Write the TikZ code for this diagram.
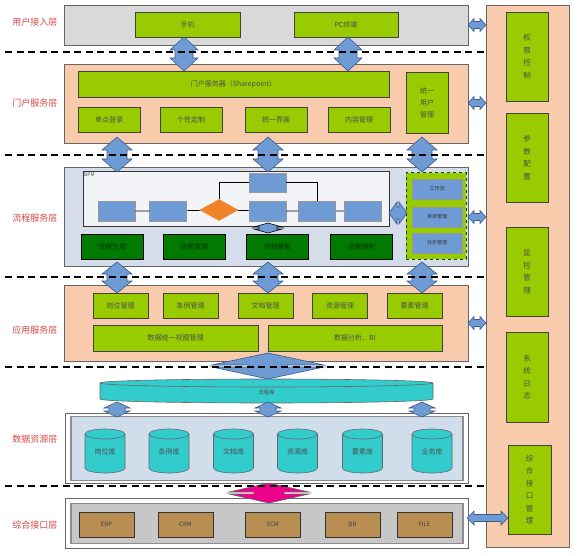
\documentclass[tikz,border=0pt]{standalone}
\usepackage{fontspec}
\setmainfont{Noto Sans CJK SC}
\usetikzlibrary{shapes.geometric}

\definecolor{usergray}{RGB}{217,217,217}
\definecolor{peach}{RGB}{248,203,173}
\definecolor{leaf}{RGB}{153,204,0}
\definecolor{skyblue}{RGB}{111,155,213}
\definecolor{arrowline}{RGB}{60,90,140}
\definecolor{procgray}{RGB}{212,221,233}
\definecolor{bpmwhite}{RGB}{242,244,248}
\definecolor{darkleaf}{RGB}{0,122,0}
\definecolor{cyan2}{RGB}{51,204,204}
\definecolor{brown2}{RGB}{185,142,82}
\definecolor{labelred}{RGB}{214,70,70}
\definecolor{orange2}{RGB}{240,130,40}
\definecolor{datablue}{RGB}{208,222,236}

% vertical double block arrow: [style]{cx}{top}{bottom}{head half}{shaft half}{head length}
\newcommand{\vdarrow}[7][]{%
  \draw[#1] (#2,-#3) -- (#2+#5,-#3-#7) -- (#2+#6,-#3-#7) -- (#2+#6,-#4+#7)
    -- (#2+#5,-#4+#7) -- (#2,-#4) -- (#2-#5,-#4+#7) -- (#2-#6,-#4+#7)
    -- (#2-#6,-#3-#7) -- (#2-#5,-#3-#7) -- cycle;}
% horizontal double block arrow: [style]{left}{right}{cy}{head half}{shaft half}{head length}
\newcommand{\hdarrow}[7][]{%
  \draw[#1] (#2,-#4) -- (#2+#7,-#4+#5) -- (#2+#7,-#4+#6) -- (#3-#7,-#4+#6)
    -- (#3-#7,-#4+#5) -- (#3,-#4) -- (#3-#7,-#4-#5) -- (#3-#7,-#4-#6)
    -- (#2+#7,-#4-#6) -- (#2+#7,-#4-#5) -- cycle;}

\begin{document}
\begin{tikzpicture}[x=1pt,y=1pt,
	sz/.style 2 args={minimum width=#1pt,minimum height=#2pt,inner sep=0pt},
	layer_bg/.style={draw=black!60,line width=0.7pt},
	layer_label/.style={text=labelred,font=\fontsize{9}{10}\selectfont},
	green_box/.style={draw=black!75,fill=leaf,line width=0.7pt,text=black!70,font=\fontsize{7}{8}\selectfont},
	side_box/.style={green_box,align=center,font=\fontsize{7.5}{12.5}\selectfont},
	dark_box/.style={draw=black,fill=darkleaf,line width=0.7pt,text=green!20!black,font=\fontsize{7}{8}\selectfont},
	blue_box/.style={draw=black!40,fill=skyblue,line width=0.5pt},
	small_box/.style={blue_box,text=black!80,font=\fontsize{5}{6}\selectfont},
	brown_box/.style={draw=black!80,fill=brown2,line width=0.7pt,text=black!75,font=\fontsize{6}{7}\selectfont},
	cyl/.style={draw=black!60,fill=cyan2,line width=0.6pt},
	cyl_text/.style={text=black!70,font=\fontsize{7}{8}\selectfont},
	blue_arrow/.style={draw=arrowline,fill=skyblue,line width=0.6pt},
	pink_arrow/.style={draw=black!60,fill=magenta,line width=0.6pt},
	flow_line/.style={draw=black,line width=0.7pt},
	dash_line/.style={draw=black,line width=1.6pt,dash pattern=on 7pt off 4.5pt}]
	\useasboundingbox (0,0) rectangle (586,-556);

	% layers
	\node[layer_bg,fill=usergray,sz={404}{40}] (user) at (266,-25) {};
	\node[layer_bg,fill=peach,sz={404}{79}] (portal) at (266,-103.5) {};
	\node[layer_bg,fill=procgray,sz={404}{99}] (proc) at (266,-216.5) {};
	\node[layer_bg,fill=peach,sz={404}{76}] (app) at (266,-323) {};
	\node[layer_bg,fill=white,sz={403}{70}] (data) at (266.5,-448) {};
	\node[draw=black!45,line width=1.5pt,fill=datablue,sz={392}{64}] (data_in) at (267,-448.5) {};
	\node[layer_bg,fill=white,sz={403}{50}] (iface) at (266.5,-523) {};
	\node[draw=black!45,line width=1.5pt,fill=black!22,sz={392}{40}] (iface_in) at (267,-523.5) {};
	\node[layer_bg,fill=peach,sz={83}{542}] (mgmt) at (527.5,-276) {};

	\node[layer_label] (l_user) at (35,-22) {用户接入层};
	\node[layer_label] (l_portal) at (35,-103) {门户服务层};
	\node[layer_label] (l_proc) at (35,-218) {流程服务层};
	\node[layer_label] (l_app) at (35,-330) {应用服务层};
	\node[layer_label] (l_data) at (35,-439) {数据资源层};
	\node[layer_label] (l_iface) at (35,-525) {综合接口层};

	% user access
	\node[green_box,sz={105}{25}] (phone) at (187.5,-24.5) {手机};
	\node[green_box,sz={104}{25}] (pc) at (346,-24.5) {PC终端};

	% portal
	\node[green_box,sz={311}{26}] (sharepoint) at (233.5,-84) {门户服务器（Sharepoint）};
	\node[green_box,sz={42}{61},align=center,font=\fontsize{7}{12}\selectfont] (uum) at (427,-102.5) {统一\\用户\\管理};
	\node[green_box,sz={62}{25}] (sso) at (109,-119.5) {单点登录};
	\node[green_box,sz={62}{25}] (custom) at (191,-119.5) {个性定制};
	\node[green_box,sz={62}{25}] (ui) at (276,-119.5) {统一界面};
	\node[green_box,sz={62}{25}] (cms) at (359,-119.5) {内容管理};

	% process
	\node[draw=black!80,fill=bpmwhite,line width=0.7pt,sz={306}{55}] (bpm) at (236,-198.5) {};
	\node[anchor=north west,inner sep=0pt,font=\fontsize{5}{5}\selectfont,text=black!70] (bpm_label) at (84,-173) {BPM};
	\node[blue_box,sz={37}{20}] (s1) at (116.5,-211) {};
	\node[blue_box,sz={37}{20}] (s2) at (168,-211) {};
	\node[diamond,draw=orange2,fill=orange2,sz={38}{21}] (dec) at (219,-210) {};
	\node[blue_box,sz={37}{20}] (s4) at (267.5,-211) {};
	\node[blue_box,sz={37}{20}] (s5) at (317,-211) {};
	\node[blue_box,sz={37}{20}] (s6) at (362.5,-211) {};
	\node[blue_box,sz={37}{19}] (s3) at (267.5,-182.5) {};
	\draw[flow_line] (s1) -- (s2) -- (dec) -- (s4) -- (s5) -- (s6);
	\draw[flow_line] (dec.north) |- (s3.west);
	\draw[flow_line] (s3.east) -| (s5.north);

	\node[dark_box,sz={62}{25}] (gen) at (112,-246.5) {流程生成};
	\node[dark_box,sz={62}{25}] (manage) at (194,-246.5) {流程管理};
	\node[dark_box,sz={62}{25}] (tpl) at (277.5,-246.5) {流程模板};
	\node[dark_box,sz={62}{25}] (map) at (361.5,-246.5) {流程映射};

	\node[draw=green!30!black,fill=leaf,dashed,line width=1pt,sz={60}{86}] (wf_group) at (436,-216) {};
	\node[small_box,sz={50}{20}] (wf) at (437,-189) {工作流};
	\node[small_box,sz={50}{20}] (form) at (437,-217) {表单管理};
	\node[small_box,sz={50}{20}] (task) at (437,-243) {任务管理};

	% application
	\node[green_box,sz={55}{25}] (post) at (120.5,-305.5) {岗位管理};
	\node[green_box,sz={55}{25}] (rule) at (190.5,-305.5) {条例管理};
	\node[green_box,sz={55}{25}] (doc) at (265.5,-305.5) {文档管理};
	\node[green_box,sz={55}{25}] (res) at (340,-305.5) {资源管理};
	\node[green_box,sz={55}{25}] (elem) at (414.5,-305.5) {要素管理};
	\node[green_box,sz={165}{26}] (view) at (175.5,-338) {数据统一视图管理};
	\node[green_box,sz={174}{26}] (bi) at (355,-338) {数据分析、BI};

	% process store
	\draw[cyl] (100,-383) -- (100,-399) arc[start angle=180,end angle=360,x radius=166.5,y radius=4]
		-- (433,-383) arc[start angle=0,end angle=180,x radius=166.5,y radius=4] -- cycle;
	\draw[cyl] (100,-383) arc[start angle=180,end angle=360,x radius=166.5,y radius=4];
	\node[cyl_text,font=\fontsize{5.5}{6}\selectfont] (flowdb) at (266.5,-392) {流程库};

	% data stores
	\foreach \cx/\name/\txt in {105/db_post/岗位库,169/db_rule/条例库,233.5/db_doc/文档库,
		297.5/db_res/资源库,362.5/db_elem/要素库,432/db_biz/业务库}{
		\draw[cyl] (\cx-20,-434) -- (\cx-20,-468) arc[start angle=180,end angle=360,x radius=20,y radius=5]
			-- (\cx+20,-434) arc[start angle=0,end angle=180,x radius=20,y radius=5] -- cycle;
		\draw[cyl] (\cx-20,-434) arc[start angle=180,end angle=360,x radius=20,y radius=5];
		\node[cyl_text] (\name) at (\cx,-452) {\txt};
	}

	% interfaces
	\node[brown_box,sz={55}{25}] (erp) at (106.5,-524.5) {ERP};
	\node[brown_box,sz={55}{25}] (crm) at (185.5,-524.5) {CRM};
	\node[brown_box,sz={55}{25}] (scm) at (272.5,-524.5) {SCM};
	\node[brown_box,sz={55}{25}] (db) at (352.5,-524.5) {DB};
	\node[brown_box,sz={55}{25}] (file) at (424.5,-524.5) {FILE};

	% management column
	\node[side_box,sz={42}{89}] (perm) at (527,-56.5) {权\\限\\控\\制};
	\node[side_box,sz={42}{89}] (param) at (527,-157.5) {参\\数\\配\\置};
	\node[side_box,sz={42}{89}] (monitor) at (527,-271.5) {监\\控\\管\\理};
	\node[side_box,sz={42}{90}] (log) at (527,-377) {系\\统\\日\\志};
	\node[side_box,sz={43}{89}] (ifmgr) at (529.5,-489.5) {综\\合\\接\\口\\管\\理};

	% block arrows
	\vdarrow[blue_arrow]{184}{37}{71}{14}{9}{13}
	\vdarrow[blue_arrow]{348}{37}{71}{14}{9}{13}
	\foreach \cx in {117,268,422}{
		\vdarrow[blue_arrow]{\cx}{137}{172}{15}{10}{13}
		\vdarrow[blue_arrow]{\cx}{262}{293}{15}{10}{12}
		\vdarrow[blue_arrow]{\cx}{402}{417}{13}{8}{6}
	}
	\vdarrow[blue_arrow,draw=black]{268}{223}{233}{14}{9}{4}
	\hdarrow[blue_arrow]{389}{407}{213}{11}{6}{8}
	\vdarrow[blue_arrow]{268}{353}{379}{56}{19}{12}
	\vdarrow[pink_arrow]{269}{483}{503}{40}{15}{9}
	\foreach \cy in {25,103,217,323}{
		\hdarrow[blue_arrow]{468}{486}{\cy}{6.5}{3.5}{6}
	}
	\hdarrow[blue_arrow]{467}{508}{518}{7}{3.5}{7}

	% separators
	\foreach \y in {52,155,277,367,486}{
		\draw[dash_line] (5,-\y) -- (486,-\y);
	}
\end{tikzpicture}
\end{document}
